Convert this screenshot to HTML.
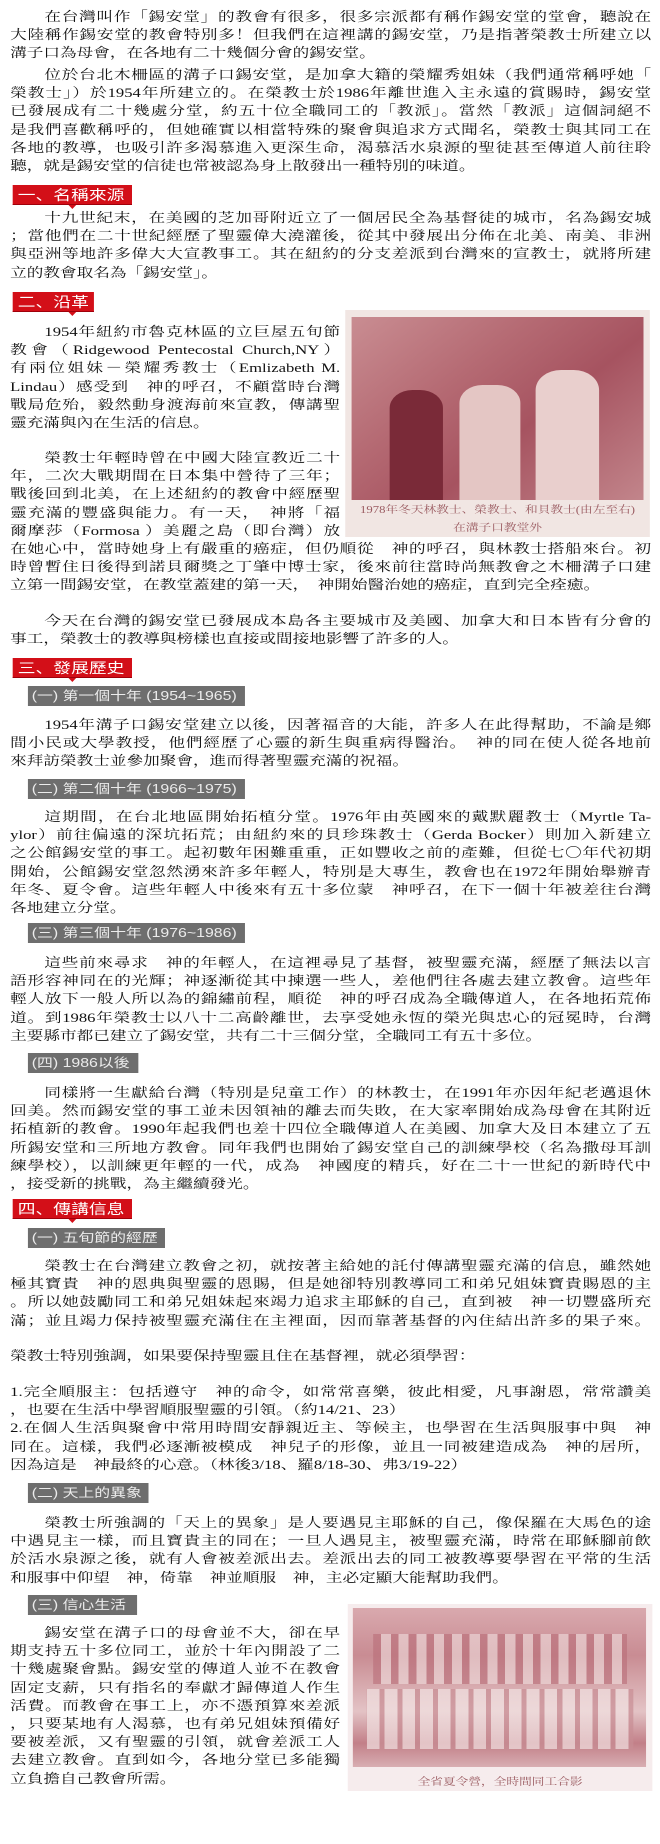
<!DOCTYPE html>
<html><head><meta charset="utf-8"><style>
html,body{margin:0;padding:0;background:#fff;}
body{width:660px;height:1844px;overflow:hidden;position:relative;}
#w{position:absolute;left:0;top:0;width:520px;height:1844px;transform:scaleX(1.26923);transform-origin:0 0;}
.p{position:absolute;left:8px;width:505px;font-family:"Liberation Serif","Noto Serif CJK SC",serif;font-size:13.1px;line-height:18.2px;color:#111;}
.p.n{width:260px;}
.p div{height:18.2px;text-align:justify;text-align-last:justify;white-space:nowrap;overflow:visible;}
.p div.l{text-align-last:left;}
.p div.i{padding-left:27px;}
.h{position:absolute;left:10px;height:20px;background:#d30f18;color:#fff;font-family:"Liberation Sans","Noto Sans CJK SC",sans-serif;font-size:14px;line-height:20px;padding-left:4px;box-sizing:border-box;border-bottom:1px solid #a0000a;white-space:nowrap;overflow:visible;}
.h:after{content:"";position:absolute;left:44px;bottom:-5px;border-left:3px solid transparent;border-right:3px solid transparent;border-top:4px solid #d30f18;}
.s{position:absolute;left:22px;height:20px;background:#6e6e6e;color:#ececec;font-family:"Liberation Sans","Noto Sans CJK SC",sans-serif;font-size:12.5px;line-height:20px;padding-left:3px;box-sizing:border-box;white-space:nowrap;}
.ph{position:absolute;background:#f1e6e3;}
.cap{position:absolute;left:0;width:100%;text-align:center;font-family:"Liberation Serif","Noto Serif CJK SC",serif;font-size:10px;color:#9a5a60;line-height:18px;white-space:nowrap;}
</style></head><body><div id="w">

<div class="p" style="top:8px">
<div class="i">在台灣叫作「錫安堂」的教會有很多，很多宗派都有稱作錫安堂的堂會，聽說在</div>
<div>大陸稱作錫安堂的教會特別多！但我們在這裡講的錫安堂，乃是指著榮教士所建立以</div>
<div class="l">溝子口為母會，在各地有二十幾個分會的錫安堂。</div>
</div>
<div class="p" style="top:66px">
<div class="i">位於台北木柵區的溝子口錫安堂，是加拿大籍的榮耀秀姐妹（我們通常稱呼她「</div>
<div>榮教士」）於1954年所建立的。在榮教士於1986年離世進入主永遠的賞賜時，錫安堂</div>
<div>已發展成有二十幾處分堂，約五十位全職同工的「教派」。當然「教派」這個詞絕不</div>
<div>是我們喜歡稱呼的，但她確實以相當特殊的聚會與追求方式聞名，榮教士與其同工在</div>
<div>各地的教導，也吸引許多渴慕進入更深生命，渴慕活水泉源的聖徒甚至傳道人前往聆</div>
<div class="l">聽，就是錫安堂的信徒也常被認為身上散發出一種特別的味道。</div>
</div>

<div class="h" style="top:185px;width:94px">一、名稱來源</div>
<div class="p" style="top:209px">
<div class="i">十九世紀末，在美國的芝加哥附近立了一個居民全為基督徒的城市，名為錫安城</div>
<div>；當他們在二十世紀經歷了聖靈偉大澆灌後，從其中發展出分佈在北美、南美、非洲</div>
<div>與亞洲等地許多偉大大宣教事工。其在紐約的分支差派到台灣來的宣教士，就將所建</div>
<div class="l">立的教會取名為「錫安堂」。</div>
</div>

<div class="h" style="top:292px;width:64px">二、沿革</div>
<div class="p n" style="top:323px">
<div class="i">1954年紐約市魯克林區的立巨屋五旬節</div>
<div>教會（Ridgewood Pentecostal Church,NY）</div>
<div>有兩位姐妹－榮耀秀教士（Emlizabeth M.</div>
<div>Lindau）感受到　神的呼召，不顧當時台灣</div>
<div>戰局危殆，毅然動身渡海前來宣教，傳講聖</div>
<div class="l">靈充滿與內在生活的信息。</div>
</div>
<div class="p n" style="top:449px">
<div class="i">榮教士年輕時曾在中國大陸宣教近二十</div>
<div>年，二次大戰期間在日本集中營待了三年；</div>
<div>戰後回到北美，在上述紐約的教會中經歷聖</div>
<div>靈充滿的豐盛與能力。有一天，　神將「福</div>
<div>爾摩莎（Formosa ）美麗之島（即台灣）放</div>
</div>
<div class="p" style="top:540px">
<div>在她心中，當時她身上有嚴重的癌症，但仍順從　神的呼召，與林教士搭船來台。初</div>
<div>時曾暫住日後得到諾貝爾獎之丁肇中博士家，後來前往當時尚無教會之木柵溝子口建</div>
<div class="l">立第一間錫安堂，在教堂蓋建的第一天，　神開始醫治她的癌症，直到完全痊癒。</div>
</div>
<div class="ph" style="left:272px;top:310px;width:240px;height:227px;">
<div style="position:absolute;left:5px;top:7px;width:230px;height:183px;background:linear-gradient(135deg,#c98d92 0%,#b56a73 35%,#a65360 60%,#c2858b 100%);"></div>
<div style="position:absolute;left:35px;top:80px;width:42px;height:110px;background:#7a2a38;border-radius:18px 18px 0 0;"></div>
<div style="position:absolute;left:90px;top:75px;width:48px;height:115px;background:#e4c6c4;border-radius:18px 18px 0 0;"></div>
<div style="position:absolute;left:150px;top:60px;width:50px;height:130px;background:#e9cfcd;border-radius:20px 20px 0 0;"></div>
<div class="cap" style="top:192px">1978年冬天林教士、榮教士、和貝教士(由左至右)</div>
<div class="cap" style="top:210px">在溝子口教堂外</div>
</div>

<div class="p" style="top:612px">
<div class="i">今天在台灣的錫安堂已發展成本島各主要城市及美國、加拿大和日本皆有分會的</div>
<div class="l">事工，榮教士的教導與榜樣也直接或間接地影響了許多的人。</div>
</div>

<div class="h" style="top:658px;width:94px">三、發展歷史</div>
<div class="s" style="top:686px;width:171px">(一) 第一個十年 (1954~1965)</div>
<div class="p" style="top:716px">
<div class="i">1954年溝子口錫安堂建立以後，因著福音的大能，許多人在此得幫助，不論是鄉</div>
<div>間小民或大學教授，他們經歷了心靈的新生與重病得醫治。　神的同在使人從各地前</div>
<div class="l">來拜訪榮教士並參加聚會，進而得著聖靈充滿的祝福。</div>
</div>
<div class="s" style="top:779px;width:171px">(二) 第二個十年 (1966~1975)</div>
<div class="p" style="top:808px">
<div class="i">這期間，在台北地區開始拓植分堂。1976年由英國來的戴默麗教士（Myrtle Ta-</div>
<div>ylor）前往偏遠的深坑拓荒；由紐約來的貝珍珠教士（Gerda Bocker）則加入新建立</div>
<div>之公館錫安堂的事工。起初數年困難重重，正如豐收之前的產難，但從七〇年代初期</div>
<div>開始，公館錫安堂忽然湧來許多年輕人，特別是大專生，教會也在1972年開始舉辦青</div>
<div>年冬、夏令會。這些年輕人中後來有五十多位蒙　神呼召，在下一個十年被差往台灣</div>
<div class="l">各地建立分堂。</div>
</div>
<div class="s" style="top:923px;width:171px">(三) 第三個十年 (1976~1986)</div>
<div class="p" style="top:954px">
<div class="i">這些前來尋求　神的年輕人，在這裡尋見了基督，被聖靈充滿，經歷了無法以言</div>
<div>語形容神同在的光輝；神逐漸從其中揀選一些人，差他們往各處去建立教會。這些年</div>
<div>輕人放下一般人所以為的錦繡前程，順從　神的呼召成為全職傳道人，在各地拓荒佈</div>
<div>道。到1986年榮教士以八十二高齡離世，去享受她永恆的榮光與忠心的冠冕時，台灣</div>
<div class="l">主要縣市都已建立了錫安堂，共有二十三個分堂，全職同工有五十多位。</div>
</div>
<div class="s" style="top:1053px;width:87px">(四) 1986以後</div>
<div class="p" style="top:1084px">
<div class="i">同樣將一生獻給台灣（特別是兒童工作）的林教士，在1991年亦因年紀老邁退休</div>
<div>回美。然而錫安堂的事工並未因領袖的離去而失敗，在大家率開始成為母會在其附近</div>
<div>拓植新的教會。1990年起我們也差十四位全職傳道人在美國、加拿大及日本建立了五</div>
<div>所錫安堂和三所地方教會。同年我們也開始了錫安堂自己的訓練學校（名為撒母耳訓</div>
<div>練學校），以訓練更年輕的一代，成為　神國度的精兵，好在二十一世紀的新時代中</div>
<div class="l">，接受新的挑戰，為主繼續發光。</div>
</div>

<div class="h" style="top:1199px;width:94px">四、傳講信息</div>
<div class="s" style="top:1228px;width:108px">(一) 五旬節的經歷</div>
<div class="p" style="top:1257px">
<div class="i">榮教士在台灣建立教會之初，就按著主給她的託付傳講聖靈充滿的信息，雖然她</div>
<div>極其寶貴　神的恩典與聖靈的恩賜，但是她卻特別教導同工和弟兄姐妹寶貴賜恩的主</div>
<div>。所以她鼓勵同工和弟兄姐妹起來竭力追求主耶穌的自己，直到被　神一切豐盛所充</div>
<div>滿；並且竭力保持被聖靈充滿住在主裡面，因而靠著基督的內住結出許多的果子來。</div>
</div>
<div class="p" style="top:1347px">
<div class="l">榮教士特別強調，如果要保持聖靈且住在基督裡，就必須學習：</div>
</div>
<div class="p" style="top:1383px">
<div>1.完全順服主：包括遵守　神的命令，如常常喜樂，彼此相愛，凡事謝恩，常常讚美</div>
<div class="l">，也要在生活中學習順服聖靈的引領。（約14/21、23）</div>
<div>2.在個人生活與聚會中常用時間安靜親近主、等候主，也學習在生活與服事中與　神</div>
<div>同在。這樣，我們必逐漸被模成　神兒子的形像，並且一同被建造成為　神的居所，</div>
<div class="l">因為這是　神最終的心意。（林後3/18、羅8/18-30、弗3/19-22）</div>
</div>
<div class="s" style="top:1483px;width:95px">(二) 天上的異象</div>
<div class="p" style="top:1514px">
<div class="i">榮教士所強調的「天上的異象」是人要遇見主耶穌的自己，像保羅在大馬色的途</div>
<div>中遇見主一樣，而且寶貴主的同在；一旦人遇見主，被聖靈充滿，時常在耶穌腳前飲</div>
<div>於活水泉源之後，就有人會被差派出去。差派出去的同工被教導要學習在平常的生活</div>
<div class="l">和服事中仰望　神，倚靠　神並順服　神，主必定顯大能幫助我們。</div>
</div>
<div class="s" style="top:1595px;width:86px">(三) 信心生活</div>
<div class="p n" style="top:1624px">
<div class="i">錫安堂在溝子口的母會並不大，卻在早</div>
<div>期支持五十多位同工，並於十年內開設了二</div>
<div>十幾處聚會點。錫安堂的傳道人並不在教會</div>
<div>固定支薪，只有指名的奉獻才歸傳道人作生</div>
<div>活費。而教會在事工上，亦不憑預算來差派</div>
<div>，只要某地有人渴慕，也有弟兄姐妹預備好</div>
<div>要被差派，又有聖靈的引領，就會差派工人</div>
<div>去建立教會。直到如今，各地分堂已多能獨</div>
<div class="l">立負擔自己教會所需。</div>
</div>
<div class="ph" style="left:274px;top:1604px;width:240px;height:187px;background:#f6eced;">
<div style="position:absolute;left:4px;top:4px;width:231px;height:159px;background:linear-gradient(180deg,#d9a9ae 0%,#c98c93 30%,#e3c3c5 65%,#c27f88 85%,#d8aeb2 100%);"></div>
<div style="position:absolute;left:20px;top:30px;width:200px;height:50px;background:repeating-linear-gradient(90deg,#b86c77 0 6px,#efdcdc 6px 14px);opacity:.6;"></div>
<div style="position:absolute;left:15px;top:85px;width:210px;height:60px;background:repeating-linear-gradient(90deg,#f1e1e1 0 10px,#c88d94 10px 14px);opacity:.7;"></div>
<div class="cap" style="top:170px">全省夏令營，全時間同工合影</div>
</div>

</div></body></html>
